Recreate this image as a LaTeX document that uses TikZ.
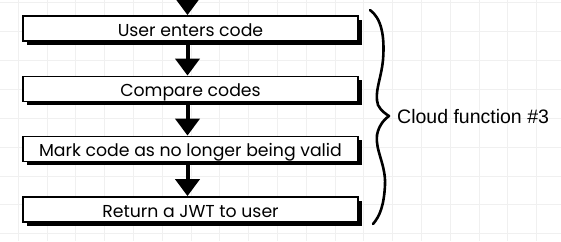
\documentclass[tikz,border=0pt]{standalone}
\usepackage{fontspec}
\setmainfont{Poppins}
\newfontfamily\labelfont{Liberation Sans}
\usetikzlibrary{arrows.meta,shadows}
\begin{document}
\begin{tikzpicture}[x=1pt,y=-1pt,
  stepbox/.style={draw=black, line width=1.8pt, fill=white,
    minimum width=335pt, minimum height=25pt, inner sep=0pt,
    text height=16.5pt, text depth=1pt,
    font=\fontsize{17.3}{19}\selectfont,
    drop shadow={shadow xshift=3.5pt, shadow yshift=-3.5pt, opacity=1, fill=black}},
  flow/.style={line width=4pt, -{Triangle[width=24pt,length=17pt]}},
  brace/.style={line width=2.6pt, line cap=round, line join=round},
  gridline/.style={draw=black!6, line width=0.8pt}]
  % page and background grid
  \useasboundingbox (0,0) rectangle (561,241);
  \fill[white] (0,0) rectangle (561,241);
  \foreach \gx in {0,...,19} {
    \draw[gridline] (18.2+28.8*\gx,0) -- (18.2+28.8*\gx,241);
  }
  \foreach \gy in {0,...,8} {
    \draw[gridline] (0,2.5+28.9*\gy) -- (561,2.5+28.9*\gy);
  }
  % process steps
  \node[stepbox] (b1) at (190.5,28.5) {User enters code};
  \node[stepbox] (b2) at (190.5,89)   {Compare codes};
  \node[stepbox] (b3) at (190.5,149)  {Mark code as no longer being valid};
  \node[stepbox] (b4) at (190.5,209.5) {Return a JWT to user};
  % flow arrows
  \coordinate (ax) at (187.5,0);
  \draw[flow] (ax) -- (ax |- b1.north);
  \draw[flow] (ax |- b1.south) -- (ax |- b2.north);
  \draw[flow] (ax |- b2.south) -- (ax |- b3.north);
  \draw[flow] (ax |- b3.south) -- (ax |- b4.north);
  % brace grouping the steps
  \draw[brace] (370,10) .. controls (381,18) and (385,35) .. (383,60)
    .. controls (381,80) and (374,92) .. (378,105)
    .. controls (381,111) and (386,114) .. (389,116)
    .. controls (386,118) and (379,124) .. (377,135)
    .. controls (375,150) and (386,165) .. (385,185)
    .. controls (384,205) and (380,216) .. (373,224);
  \node[anchor=west, inner sep=0pt, font=\labelfont\fontsize{19.5}{22}\selectfont] (cf) at (397,117) {Cloud function \#3};
\end{tikzpicture}
\end{document}
